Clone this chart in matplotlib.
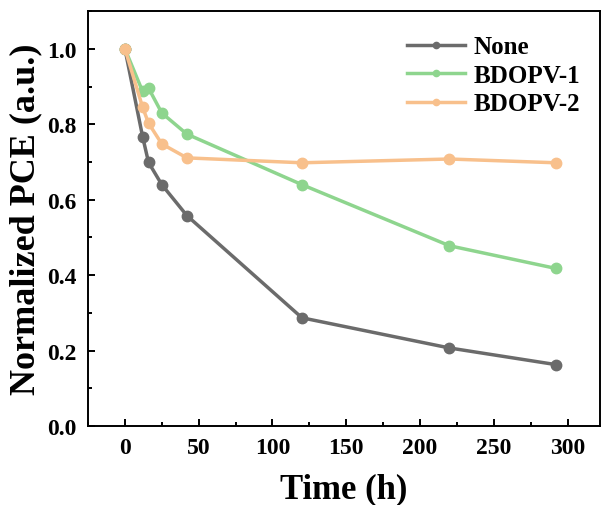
import matplotlib
matplotlib.use('Agg')
import matplotlib.pyplot as plt
from matplotlib.ticker import MultipleLocator

# data
time_none = [0, 12, 16, 25, 42, 120, 220, 292]
pce_none = [1.0, 0.767, 0.699, 0.640, 0.558, 0.287, 0.207, 0.163]

time_b1 = [0, 12, 16, 25, 42, 120, 220, 292]
pce_b1 = [1.0, 0.887, 0.896, 0.830, 0.774, 0.640, 0.478, 0.418]

time_b2 = [0, 12, 16, 25, 42, 120, 220, 292]
pce_b2 = [1.0, 0.845, 0.803, 0.748, 0.711, 0.698, 0.708, 0.698]

labels = ['None', 'BDOPV-1', 'BDOPV-2']
colors = ['#6b6b6b', '#8ed58e', '#f8c08c']

plt.rcParams['font.family'] = ['Liberation Serif', 'DejaVu Serif']
plt.rcParams['font.weight'] = 'bold'

fig = plt.figure(figsize=(6.03, 5.06), dpi=100)
ax = fig.add_axes([0.146, 0.156, 0.849, 0.82])

series = [(time_none, pce_none), (time_b1, pce_b1), (time_b2, pce_b2)]
for (t, p), lab, c in zip(series, labels, colors):
    ax.plot(t, p, color=c, lw=2.5, marker='o', ms=7.5, mfc=c, mec=c, label=lab)

ax.set_xlim(-25, 322)
ax.set_ylim(0, 1.1)
ax.xaxis.set_major_locator(MultipleLocator(50))
ax.xaxis.set_minor_locator(MultipleLocator(25))
ax.yaxis.set_major_locator(MultipleLocator(0.2))
ax.yaxis.set_minor_locator(MultipleLocator(0.1))
ax.yaxis.set_major_formatter(plt.FormatStrFormatter('%.1f'))

ax.tick_params(which='major', direction='in', length=5, width=1.4, labelsize=17,
               top=False, right=False, pad=8)
ax.tick_params(which='minor', direction='in', length=3, width=1.4, top=False, right=False)
for lab in ax.get_xticklabels() + ax.get_yticklabels():
    lab.set_fontweight('bold')
for s in ax.spines.values():
    s.set_linewidth(1.4)

ax.set_xlabel('Time (h)', fontsize=25, fontweight='bold', labelpad=10)
ax.set_ylabel('Normalized PCE (a.u.)', fontsize=26, fontweight='bold', labelpad=4)

leg = ax.legend(loc='upper right', frameon=False, prop={'size': 18, 'weight': 'bold'},
                handlelength=2.3, handletextpad=0.35, labelspacing=0.22,
                borderaxespad=0.4, markerscale=0.6)
leg.set_bbox_to_anchor((1.0, 0.99), transform=ax.transAxes)

fig.savefig('out.png', dpi=100)
